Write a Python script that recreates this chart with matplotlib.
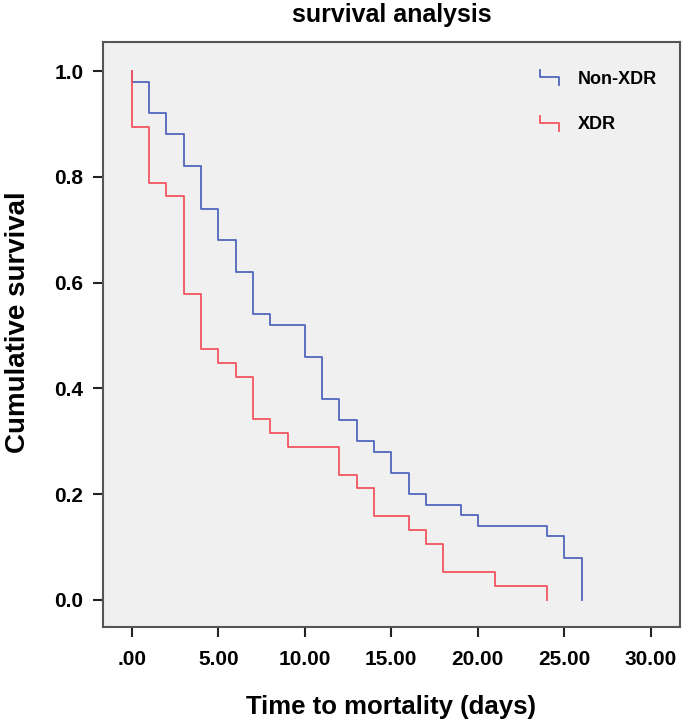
import matplotlib
matplotlib.use('Agg')
import matplotlib.pyplot as plt
from matplotlib.lines import Line2D
from matplotlib.legend_handler import HandlerBase

# --- datos (Kaplan-Meier) ---
# dia del evento y supervivencia acumulada despues del evento
nonxdr_days = [0, 1, 2, 3, 4, 5, 6, 7, 8, 10, 11, 12, 13, 14, 15, 16, 17, 19, 20, 24, 25, 26]
nonxdr_surv = [0.98, 0.92, 0.88, 0.82, 0.74, 0.68, 0.62, 0.54, 0.52, 0.46, 0.38, 0.34,
               0.30, 0.28, 0.24, 0.20, 0.18, 0.16, 0.14, 0.12, 0.08, 0.0]

xdr_days = [0, 1, 2, 3, 4, 5, 6, 7, 8, 9, 12, 13, 14, 16, 17, 18, 21, 24]
xdr_surv = [0.895, 0.789, 0.763, 0.579, 0.474, 0.447, 0.421, 0.342, 0.316, 0.289,
            0.237, 0.211, 0.158, 0.132, 0.105, 0.053, 0.026, 0.0]

group_names = ['Non-XDR', 'XDR']
group_colors = ['#5066bc', '#f2555f']

xticks = [0, 5, 10, 15, 20, 25, 30]
xtick_labels = ['.00', '5.00', '10.00', '15.00', '20.00', '25.00', '30.00']
yticks = [0.0, 0.2, 0.4, 0.6, 0.8, 1.0]
ytick_labels = ['0.0', '0.2', '0.4', '0.6', '0.8', '1.0']

plt.rcParams['font.family'] = ['Liberation Sans', 'DejaVu Sans']
plt.rcParams['font.weight'] = 'bold'


class StepHandler(HandlerBase):
    # icono de leyenda con forma de escalon, como en SPSS
    def create_artists(self, legend, orig_handle, xdescent, ydescent,
                       width, height, fontsize, trans):
        x0, x1 = -xdescent, -xdescent + width
        ytop = -ydescent + height * 1.05
        ymid = -ydescent + height * 0.55
        ybot = -ydescent - height * 0.15
        ln = Line2D([x0, x0, x1, x1], [ytop, ymid, ymid, ybot],
                    color=orig_handle.get_color(), lw=1.3, transform=trans)
        return [ln]


fig = plt.figure(figsize=(6.85, 7.23), dpi=100)
ax = fig.add_axes([0.150, 0.133, 0.843, 0.809])
ax.set_facecolor('#f0f0f0')

handles = []
for days, surv, name, col in [(nonxdr_days, nonxdr_surv, group_names[0], group_colors[0]),
                              (xdr_days, xdr_surv, group_names[1], group_colors[1])]:
    t = [0] + days
    s = [1.0] + surv
    line, = ax.step(t, s, where='post', color=col, lw=1.3, label=name)
    handles.append(line)

ax.set_xlim(-1.68, 31.7)
ax.set_ylim(-0.051, 1.055)
ax.set_xticks(xticks)
ax.set_xticklabels(xtick_labels)
ax.set_yticks(yticks)
ax.set_yticklabels(ytick_labels)
ax.tick_params(axis='x', length=7, width=1.5, pad=10, labelsize=15, colors='#222222')
ax.tick_params(axis='y', length=7, width=1.5, pad=7, labelsize=15, colors='#222222')
for lbl in ax.get_xticklabels() + ax.get_yticklabels():
    lbl.set_color('black')
    lbl.set_fontweight('bold')

for sp in ax.spines.values():
    sp.set_color('#555555')
    sp.set_linewidth(1.5)

ax.set_xlabel('Time to mortality (days)', fontsize=18.5, fontweight='bold', labelpad=18.5)
ax.set_ylabel('Cumulative survival', fontsize=20, fontweight='bold')
ax.yaxis.set_label_coords(-0.124, 0.521)
ax.set_title('survival analysis', fontsize=18, fontweight='bold', pad=14)

ax.legend(handles=handles, handler_map={Line2D: StepHandler()},
          loc='upper left', bbox_to_anchor=(0.757, 0.951), frameon=False,
          prop={'weight': 'bold', 'size': 13},
          handlelength=1.05, handletextpad=1.05, labelspacing=1.6,
          borderpad=0, borderaxespad=0)

plt.savefig('out.png', dpi=100)
